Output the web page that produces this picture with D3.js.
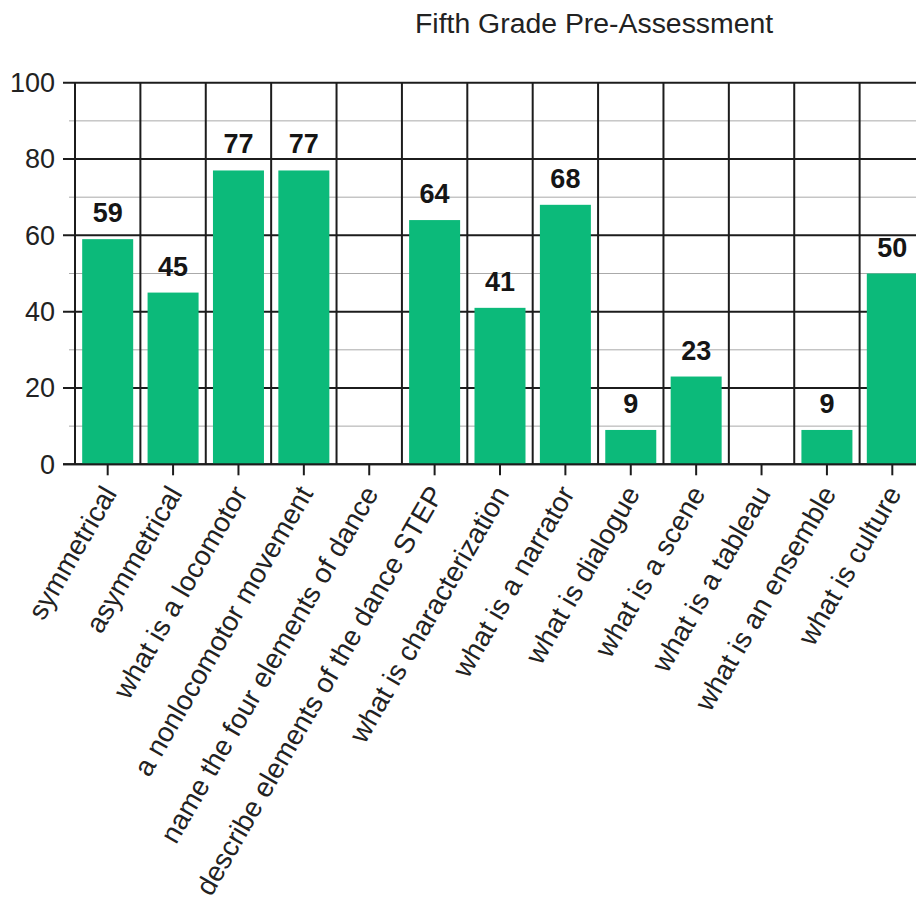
<!DOCTYPE html>
<html>
<head>
<meta charset="utf-8">
<script src="https://cdn.jsdelivr.net/npm/d3@7"></script>
<style>
  html, body { margin: 0; padding: 0; background: #fff; }
  svg { display: block; }
  text { font-family: "Liberation Sans", Arial, sans-serif; }
</style>
</head>
<body>
<script>
const title = "Fifth Grade Pre-Assessment";
const categories = [
  "symmetrical",
  "asymmetrical",
  "what is a locomotor",
  "a nonlocomotor movement",
  "name the four elements of dance",
  "describe elements of the dance STEP",
  "what is characterization",
  "what is a narrator",
  "what is dialogue",
  "what is a scene",
  "what is a tableau",
  "what is an ensemble",
  "what is culture"
];
const values = [59, 45, 77, 77, null, 64, 41, 68, 9, 23, null, 9, 50];
const majorTicks = [0, 20, 40, 60, 80, 100];
const minorTicks = [10, 30, 50, 70, 90];

(function () {
const W = 916, H = 905;
const pLeft = 75, pRight = 925, pTop = 82.7, pBottom = 464.3;

const svg = d3.select("body").append("svg").attr("width", W).attr("height", H);
svg.append("rect").attr("width", W).attr("height", H).attr("fill", "#fff");

const x = d3.scaleBand().domain(categories).range([pLeft, pRight]).paddingInner(0.22).paddingOuter(0.11);
const y = d3.scaleLinear().domain([0, 100]).range([pBottom, pTop]);

const dark = "#1c1c1c";

// minor gridlines
svg.append("g").selectAll("line").data(minorTicks).join("line")
  .attr("x1", pLeft - 6).attr("x2", W)
  .attr("y1", d => y(d)).attr("y2", d => y(d))
  .attr("stroke", "#aaaaaa").attr("stroke-width", 1);

// major gridlines + ticks
svg.append("g").selectAll("line").data(majorTicks).join("line")
  .attr("x1", pLeft - 12).attr("x2", W)
  .attr("y1", d => y(d)).attr("y2", d => y(d))
  .attr("stroke", dark).attr("stroke-width", 2);

// vertical gridlines at band boundaries
const bounds = d3.range(categories.length + 1).map(i => x.range()[0] + i * x.step());
svg.append("g").selectAll("line").data(bounds).join("line")
  .attr("x1", d => d).attr("x2", d => d)
  .attr("y1", y(100)).attr("y2", y(0))
  .attr("stroke", dark).attr("stroke-width", 2);

// y tick labels
svg.append("g").selectAll("text").data(majorTicks).join("text")
  .attr("x", pLeft - 20).attr("y", d => y(d)).attr("dy", "0.35em")
  .attr("text-anchor", "end").attr("font-size", 27).attr("fill", "#222")
  .text(d => d);

// bars
const data = categories.map((c, i) => ({ c, v: values[i] })).filter(d => d.v != null);
svg.append("g").selectAll("rect").data(data).join("rect")
  .attr("x", d => x(d.c)).attr("width", x.bandwidth())
  .attr("y", d => y(d.v)).attr("height", d => y(0) - y(d.v))
  .attr("fill", "#0cba7a");

// value labels
svg.append("g").selectAll("text").data(data).join("text")
  .attr("x", d => x(d.c) + x.bandwidth() / 2).attr("y", d => y(d.v) - 17)
  .attr("text-anchor", "middle").attr("font-size", 27).attr("font-weight", "bold").attr("fill", "#151515")
  .text(d => d.v);

// x axis line and ticks
svg.append("line").attr("x1", pLeft - 12).attr("x2", W).attr("y1", y(0)).attr("y2", y(0))
  .attr("stroke", dark).attr("stroke-width", 2);
svg.append("g").selectAll("line").data(categories).join("line")
  .attr("x1", d => x(d) + x.bandwidth() / 2).attr("x2", d => x(d) + x.bandwidth() / 2)
  .attr("y1", y(0)).attr("y2", y(0) + 11)
  .attr("stroke", dark).attr("stroke-width", 2);

// x labels
svg.append("g").selectAll("text").data(categories).join("text")
  .attr("transform", d => `translate(${x(d) + x.bandwidth() / 2 + 10},${y(0) + 29}) rotate(-60)`)
  .attr("text-anchor", "end").attr("font-size", 27.8).attr("fill", "#222")
  .text(d => d);

// title
svg.append("text").attr("x", 415).attr("y", 33).attr("font-size", 28.4).attr("fill", "#222").text(title);
})();
</script>
</body>
</html>
